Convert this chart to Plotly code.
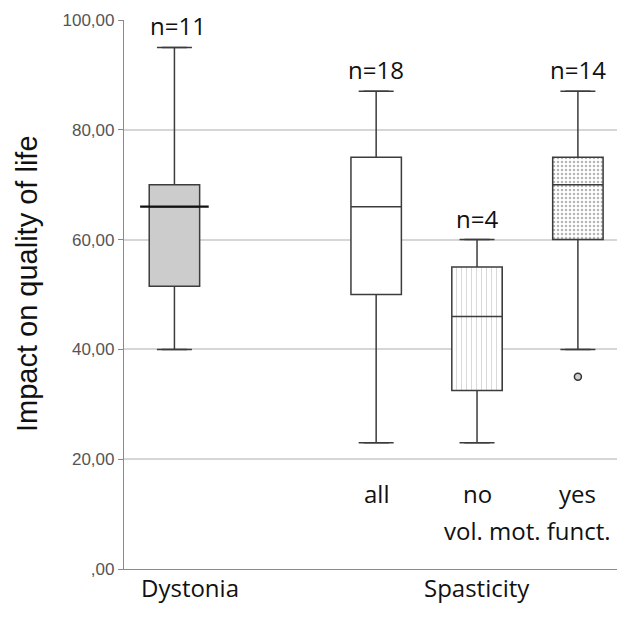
import plotly.graph_objects as go

# ---- data ----
groups = ["Dystonia", "all", "no", "yes"]
n_labels = ["n=11", "n=18", "n=4", "n=14"]
q1 = [51.5, 50.0, 32.5, 60.0]
median = [66.0, 66.0, 46.0, 70.0]
q3 = [70.0, 75.0, 55.0, 75.0]
lowerfence = [40.0, 23.0, 23.0, 40.0]
upperfence = [95.0, 87.0, 60.0, 87.0]
outlier_group = ["yes"]
outlier_value = [35.0]
category_order = ["Dystonia", " ", "all", "no", "yes"]
y_tickvals = [0, 20, 40, 60, 80, 100]
y_ticktext = [",00", "20,00", "40,00", "60,00", "80,00", "100,00"]
sub_labels = ["all", "no", "yes"]
main_labels = ["Dystonia", "Spasticity"]

LINE = "#3c3c3c"
TXT = "#111111"
fills = {"Dystonia": "#cccccc", "all": "#ffffff", "no": "rgba(0,0,0,0)", "yes": "rgba(0,0,0,0)"}

fig = go.Figure()

# patterned fills (underneath boxes)
fig.add_trace(go.Bar(
    x=["no"], base=[q1[2]], y=[q3[2] - q1[2]], width=0.5,
    marker=dict(color="white", line=dict(width=0),
                pattern=dict(shape="|", fgcolor="#b4b4b4", bgcolor="white", size=5, solidity=0.2)),
    hoverinfo="skip", showlegend=False))
fig.add_trace(go.Bar(
    x=["yes"], base=[q1[3]], y=[q3[3] - q1[3]], width=0.5,
    marker=dict(color="white", line=dict(width=0),
                pattern=dict(shape=".", fgcolor="#6a6a6a", bgcolor="white", size=4, solidity=0.32)),
    hoverinfo="skip", showlegend=False))

for i, g in enumerate(groups):
    fig.add_trace(go.Box(
        x=[g], q1=[q1[i]], median=[median[i]], q3=[q3[i]],
        lowerfence=[lowerfence[i]], upperfence=[upperfence[i]],
        width=0.5, fillcolor=fills[g], line=dict(color=LINE, width=1.5),
        boxpoints=False, showlegend=False))

# Dystonia median drawn darker
fig.add_trace(go.Scatter(
    x=[groups[0]], y=[median[0]], mode="markers",
    marker=dict(symbol="line-ew", size=49, line=dict(color="#111111", width=2.2)),
    showlegend=False, hoverinfo="skip"))

# whisker caps
fig.add_trace(go.Scatter(
    x=groups + groups, y=lowerfence + upperfence, mode="markers",
    marker=dict(symbol="line-ew", size=25, line=dict(color=LINE, width=1.5)),
    showlegend=False, hoverinfo="skip"))

# outlier
fig.add_trace(go.Scatter(
    x=outlier_group, y=outlier_value, mode="markers",
    marker=dict(symbol="circle", size=7, color="#d0d0d0", line=dict(color="#333333", width=1.5)),
    showlegend=False))

annotations = []
for i, g in enumerate(groups):
    annotations.append(dict(x=g, y=upperfence[i], xref="x", yref="y", text=n_labels[i],
                            showarrow=False, yanchor="bottom", yshift=3,
                            xshift=4 if i == 0 else 0,
                            font=dict(family="Open Sans", size=24, color=TXT)))
for lab in sub_labels:
    annotations.append(dict(x=lab, y=13.8, xref="x", yref="y", text=lab, showarrow=False,
                            font=dict(family="Open Sans", size=24, color=TXT)))
annotations.append(dict(x=3.5, y=7.1, xref="x", yref="y", text="vol. mot. funct.", showarrow=False,
                        font=dict(family="Open Sans", size=24, color=TXT)))
annotations.append(dict(x=0.15, y=-0.067, xref="x", yref="paper", text=main_labels[0], showarrow=False,
                        font=dict(family="Open Sans", size=24, color=TXT)))
annotations.append(dict(x=3.0, y=-0.067, xref="x", yref="paper", text=main_labels[1], showarrow=False,
                        font=dict(family="Open Sans", size=24, color=TXT)))
annotations.append(dict(x=-0.1936, y=0.519, xref="paper", yref="paper", text="Impact on quality of life",
                        textangle=-90, showarrow=False, xanchor="center", yanchor="middle",
                        font=dict(family="Liberation Sans, Arial", size=29, color=TXT)))

# page body has an 8px default margin, so the figure is sized/offset to fit the window
fig.update_layout(
    width=617, height=614,
    margin=dict(l=116, r=0, t=12, b=53),
    paper_bgcolor="white", plot_bgcolor="white",
    barmode="overlay", boxmode="overlay",
    annotations=annotations,
    xaxis=dict(type="category", categoryorder="array", categoryarray=category_order,
               range=[-0.5, 4.467], showticklabels=False, ticks="", showgrid=False,
               showline=True, linecolor="#8a8a8a", linewidth=1.2, zeroline=False,
               automargin=False),
    yaxis=dict(range=[0, 100], tickvals=y_tickvals, ticktext=y_ticktext,
               tickfont=dict(family="Liberation Sans, Arial", size=17, color="#555555"),
               ticks="outside", ticklen=5, tickcolor="#8a8a8a",
               showgrid=True, gridcolor="#d6d6d6", gridwidth=1.6,
               showline=True, linecolor="#8a8a8a", linewidth=1.2, zeroline=False,
               automargin=False),
)

fig.write_html("out.html")
